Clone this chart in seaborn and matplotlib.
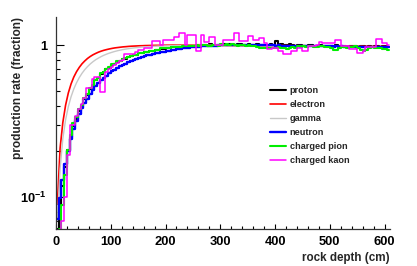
import numpy as np
import pandas as pd
import matplotlib
matplotlib.use("Agg")
import matplotlib.pyplot as plt
from matplotlib.ticker import FixedLocator, FixedFormatter, NullFormatter, MultipleLocator
import seaborn as sns

sns.set_style("ticks")
plt.rcParams['font.family'] = ['Liberation Sans', 'DejaVu Sans']
plt.rcParams['font.weight'] = 'bold'
plt.rcParams['mathtext.fontset'] = 'custom'
plt.rcParams['mathtext.rm'] = 'Liberation Sans:bold'
plt.rcParams['mathtext.bf'] = 'Liberation Sans:bold'

# rock depth bin centres (5 cm bins, 0-610 cm)
depth = np.arange(2.5, 610, 5)

particles = ["proton", "electron", "gamma", "neutron", "charged pion", "charged kaon"]
colors = ["black", "#ff0000", "#c8c8c8", "#0000ff", "#00ee00", "#ff00ff"]
widths = [1.5, 1.2, 1.0, 1.7, 1.5, 1.1]
styles = ["steps-mid", "default", "default", "steps-mid", "steps-mid", "steps-mid"]

proton = [
    0.062, 0.086, 0.118, 0.158, 0.205, 0.248, 0.292, 0.328, 0.368, 0.400,
    0.442, 0.468, 0.512, 0.541, 0.585, 0.605, 0.645, 0.660, 0.695, 0.710,
    0.738, 0.752, 0.778, 0.787, 0.810, 0.815, 0.838, 0.842, 0.862, 0.866,
    0.882, 0.884, 0.898, 0.902, 0.918, 0.916, 0.932, 0.930, 0.947, 0.945,
    0.958, 0.955, 0.968, 0.965, 0.978, 0.972, 0.985, 0.980, 0.990, 0.988,
    0.990, 1.000, 0.995, 1.005, 1.000, 0.990, 1.010, 1.000, 1.005, 0.995,
    1.000, 1.010, 1.000, 1.015, 1.005, 1.000, 1.010, 1.020, 1.005, 1.000,
    1.010, 1.000, 1.005, 1.015, 1.000, 0.995, 1.005, 1.000, 1.010, 1.000,
    1.060, 1.000, 1.010, 0.995, 1.000, 1.020, 1.000, 0.990, 0.995, 1.000,
    0.990, 0.985, 0.995, 1.000, 0.990, 0.980, 0.995, 0.985, 0.990, 0.980,
    0.990, 0.980, 0.995, 0.985, 0.980, 0.990, 0.975, 0.985, 0.990, 0.980,
    0.975, 0.985, 0.980, 0.970, 0.985, 0.975, 0.980, 0.990, 0.975, 0.980,
    0.985, 0.975,
]

electron = [
    0.090, 0.210, 0.310, 0.402, 0.484, 0.555, 0.616, 0.668, 0.713, 0.753,
    0.786, 0.816, 0.841, 0.863, 0.881, 0.898, 0.912, 0.924, 0.934, 0.943,
    0.951, 0.958, 0.963, 0.968, 0.973, 0.976, 0.980, 0.983, 0.985, 0.987,
    0.989, 0.990, 0.992, 0.993, 0.994, 0.995, 0.996, 0.996, 0.997, 0.997,
    0.998, 0.998, 0.999, 0.999, 0.999, 1.000, 1.000, 1.000, 1.000, 1.000,
    1.000, 1.000, 1.000, 0.999, 0.999, 0.998, 0.998, 0.997, 0.997, 0.996,
    0.995, 0.995, 0.994, 0.994, 0.993, 0.993, 0.992, 0.992, 0.991, 0.991,
    0.990, 0.990, 0.990, 0.989, 0.989, 0.989, 0.990, 0.990, 0.991, 0.991,
    0.992, 0.992, 0.993, 0.993, 0.992, 0.992, 0.991, 0.991, 0.990, 0.990,
    0.990, 0.989, 0.989, 0.988, 0.988, 0.988, 0.987, 0.987, 0.987, 0.986,
    0.986, 0.986, 0.985, 0.985, 0.985, 0.984, 0.984, 0.984, 0.983, 0.983,
    0.983, 0.982, 0.982, 0.982, 0.981, 0.981, 0.981, 0.980, 0.980, 0.980,
    0.980, 0.979,
]

gamma = [
    0.070, 0.154, 0.243, 0.322, 0.393, 0.457, 0.514, 0.565, 0.611, 0.652,
    0.689, 0.721, 0.751, 0.777, 0.801, 0.821, 0.840, 0.857, 0.872, 0.885,
    0.897, 0.908, 0.918, 0.926, 0.934, 0.941, 0.947, 0.953, 0.958, 0.962,
    0.966, 0.970, 0.973, 0.976, 0.978, 0.981, 0.983, 0.985, 0.986, 0.988,
    0.989, 0.990, 0.991, 0.992, 0.993, 0.994, 0.995, 0.995, 0.996, 0.996,
    0.997, 0.997, 0.998, 0.998, 0.998, 0.998, 0.997, 0.997, 0.996, 0.996,
    0.995, 0.995, 0.994, 0.994, 0.993, 0.993, 0.992, 0.992, 0.991, 0.991,
    0.990, 0.990, 0.990, 0.989, 0.989, 0.989, 0.988, 0.988, 0.988, 0.987,
    0.987, 0.987, 0.986, 0.986, 0.986, 0.985, 0.985, 0.985, 0.984, 0.984,
    0.984, 0.983, 0.983, 0.983, 0.982, 0.982, 0.982, 0.981, 0.981, 0.981,
    0.980, 0.980, 0.980, 0.979, 0.979, 0.979, 0.978, 0.978, 0.978, 0.977,
    0.977, 0.977, 0.976, 0.976, 0.976, 0.975, 0.975, 0.975, 0.974, 0.974,
    0.974, 0.973,
]

neutron = [
    0.072, 0.098, 0.130, 0.165, 0.200, 0.240, 0.280, 0.315, 0.350, 0.385,
    0.415, 0.445, 0.475, 0.505, 0.535, 0.560, 0.585, 0.610, 0.630, 0.650,
    0.670, 0.690, 0.710, 0.725, 0.740, 0.755, 0.770, 0.785, 0.800, 0.810,
    0.825, 0.835, 0.845, 0.855, 0.865, 0.873, 0.882, 0.888, 0.897, 0.905,
    0.912, 0.920, 0.926, 0.932, 0.940, 0.945, 0.950, 0.955, 0.960, 0.965,
    0.970, 0.973, 0.976, 0.980, 0.982, 0.985, 0.987, 0.990, 0.992, 0.994,
    0.995, 0.996, 1.000, 0.998, 1.000, 1.002, 0.999, 1.000, 1.003, 1.000,
    1.000, 0.998, 1.000, 0.996, 0.998, 1.000, 0.995, 0.997, 0.994, 0.996,
    0.993, 0.995, 0.992, 0.990, 0.993, 0.990, 0.988, 0.990, 0.987, 0.989,
    0.986, 0.984, 0.987, 0.985, 0.983, 0.985, 0.982, 0.980, 0.983, 0.980,
    0.981, 0.978, 0.980, 0.977, 0.979, 0.976, 0.978, 0.975, 0.977, 0.974,
    0.976, 0.973, 0.975, 0.972, 0.974, 0.971, 0.973, 0.970, 0.972, 0.970,
    0.971, 0.970,
]

pion = [
    0.045, 0.062, 0.088, 0.140, 0.205, 0.255, 0.305, 0.335, 0.380, 0.405,
    0.450, 0.475, 0.520, 0.545, 0.590, 0.610, 0.650, 0.665, 0.700, 0.715,
    0.745, 0.755, 0.780, 0.790, 0.815, 0.820, 0.840, 0.845, 0.865, 0.865,
    0.885, 0.885, 0.900, 0.905, 0.920, 0.920, 0.935, 0.935, 0.950, 0.950,
    0.960, 0.955, 0.970, 0.965, 0.975, 0.970, 0.985, 0.980, 0.990, 0.985,
    0.990, 1.000, 0.985, 0.995, 1.005, 0.990, 0.980, 1.000, 1.000, 0.990,
    1.020, 1.000, 1.010, 1.000, 1.015, 1.000, 0.990, 1.000, 1.005, 0.990,
    1.000, 0.990, 0.980, 0.970, 0.960, 0.960, 0.950, 0.950, 0.960, 0.950,
    0.955, 0.970, 0.960, 0.950, 0.940, 0.950, 0.970, 0.960, 0.980, 0.970,
    0.980, 0.970, 0.985, 0.980, 0.970, 0.975, 0.980, 0.990, 0.970, 0.975,
    0.960, 0.935, 0.935, 0.960, 0.975, 0.970, 0.960, 0.975, 0.970, 0.980,
    0.950, 0.930, 0.920, 0.930, 0.950, 0.970, 0.960, 0.950, 0.960, 0.945,
    0.940, 0.935,
]

kaon = [
    0.030, 0.040, 0.070, 0.100, 0.190, 0.300, 0.300, 0.340, 0.380, 0.410,
    0.450, 0.520, 0.520, 0.600, 0.620, 0.620, 0.490, 0.490, 0.660, 0.700,
    0.720, 0.740, 0.760, 0.780, 0.800, 0.880, 0.880, 0.880, 0.880, 0.900,
    0.930, 0.930, 0.950, 0.960, 0.960, 1.060, 1.060, 1.060, 1.000, 1.080,
    1.080, 1.080, 1.080, 1.130, 1.130, 1.200, 1.200, 1.000, 1.170, 1.170,
    1.170, 0.910, 0.910, 1.170, 1.050, 1.050, 1.130, 1.130, 1.000, 1.000,
    1.000, 1.080, 1.080, 1.080, 1.080, 1.200, 1.200, 1.060, 1.060, 1.060,
    1.150, 1.150, 1.080, 1.080, 1.120, 1.120, 1.030, 0.940, 0.940, 0.960,
    0.960, 0.920, 0.920, 0.870, 0.870, 0.870, 0.920, 0.920, 0.960, 0.960,
    0.920, 0.920, 0.990, 0.990, 0.990, 1.000, 1.050, 1.030, 1.030, 1.030,
    1.030, 1.030, 1.080, 1.080, 0.980, 0.980, 0.980, 0.940, 0.940, 0.940,
    0.890, 0.890, 0.910, 0.970, 0.970, 0.970, 0.970, 1.100, 1.100, 1.030,
    1.030, 1.000,
]

series = [proton, electron, gamma, neutron, pion, kaon]

fig = plt.figure(figsize=(4.17, 2.66), dpi=100)
ax = fig.add_axes([56 / 417, 1 - 229 / 266, 334 / 417, 212 / 266])

for name, vals, col, lw, ds in zip(particles, series, colors, widths, styles):
    df = pd.DataFrame({"depth": depth, "rate": vals})
    sns.lineplot(data=df, x="depth", y="rate", ax=ax, color=col, lw=lw,
                 drawstyle=ds, errorbar=None, label=name)

ax.set_yscale("log")
ax.set_xlim(0, 610)
ax.set_ylim(0.0616, 1.53)

ax.yaxis.set_major_locator(FixedLocator([0.1, 1]))
ax.yaxis.set_major_formatter(FixedFormatter([r"$10^{-1}$", "1"]))
ax.yaxis.set_minor_locator(FixedLocator([0.07, 0.08, 0.09, 0.2, 0.3, 0.4, 0.5, 0.6, 0.7, 0.8, 0.9]))
ax.yaxis.set_minor_formatter(NullFormatter())
ax.xaxis.set_major_locator(MultipleLocator(100))
ax.xaxis.set_minor_locator(MultipleLocator(20))

ax.tick_params(axis="both", which="both", direction="in", colors="black", labelsize=9.3)
ax.tick_params(axis="x", which="major", length=3.5, width=0.8, pad=5)
ax.tick_params(axis="x", which="minor", length=2, width=0.8)
ax.tick_params(axis="y", which="major", length=5.5, width=0.8, pad=6.5)
ax.tick_params(axis="y", which="minor", length=3, width=0.8)

for s in ["top", "right"]:
    ax.spines[s].set_visible(False)
for s in ["left", "bottom"]:
    ax.spines[s].set_linewidth(0.9)
    ax.spines[s].set_color("#333333")

ax.set_xlabel("rock depth (cm)", loc="right", fontsize=8.4, fontweight="bold")
ax.xaxis.set_label_coords(1.0, -(252 - 229) / 212)
ax.set_ylabel("production rate (fraction)", loc="top", fontsize=8.6, fontweight="bold")
ax.yaxis.set_label_coords(-(56 - 24) / 334, 1.0)

leg = ax.legend(loc="upper left", bbox_to_anchor=(270 / 417, 1 - 86 / 266),
                bbox_transform=fig.transFigure, frameon=False,
                prop={"size": 6.6, "weight": "bold"}, handlelength=1.7,
                handletextpad=0.45, labelspacing=0.55, borderpad=0, borderaxespad=0)

fig.savefig("out.png", dpi=100)
